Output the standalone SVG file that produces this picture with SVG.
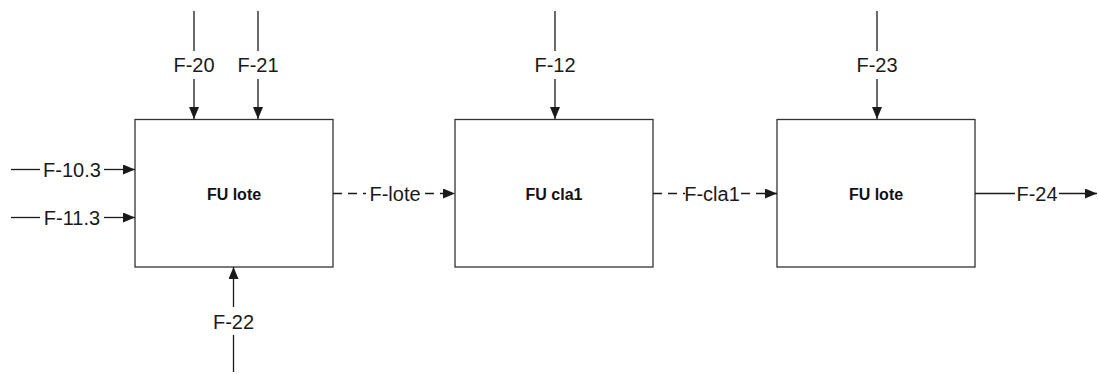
<svg xmlns="http://www.w3.org/2000/svg" width="1099" height="374" viewBox="0 0 1099 374">
<defs>
<marker id="ah" viewBox="0 0 12 10" refX="12" refY="5" markerWidth="12" markerHeight="10" markerUnits="userSpaceOnUse" orient="auto">
<path d="M0,0 L12,5 L0,10 Z" fill="#1a1a1a"/>
</marker>
<style>
.box{fill:#fff;stroke:#333;stroke-width:1.3}
.ln{stroke:#1a1a1a;stroke-width:1.3;fill:none}
.dash{stroke-dasharray:9,6}
.lbl{font-family:"Liberation Sans",Arial,sans-serif;font-size:20px;fill:#1a1a1a}
.nt{font-family:"Liberation Sans",Arial,sans-serif;font-size:16px;font-weight:bold;fill:#111;text-anchor:middle}
</style>
</defs>
<rect width="1099" height="374" fill="#fff"/>
<g id="node-fu-lote-1"><rect class="box" x="135" y="119.5" width="198" height="147.5"/><text class="nt" x="234" y="199.5">FU lote</text></g>
<g id="node-fu-cla1"><rect class="box" x="455" y="119.5" width="198" height="147.5"/><text class="nt" x="554" y="199.5">FU cla1</text></g>
<g id="node-fu-lote-2"><rect class="box" x="777" y="119.5" width="198" height="147.5"/><text class="nt" x="876" y="199.5">FU lote</text></g>
<g id="connectors">
<line class="ln" x1="194" y1="11" x2="194" y2="51"/><line class="ln" x1="194" y1="79" x2="194" y2="119" marker-end="url(#ah)"/>
<text class="lbl" x="194" y="72" text-anchor="middle">F-20</text>
<line class="ln" x1="258" y1="11" x2="258" y2="51"/><line class="ln" x1="258" y1="79" x2="258" y2="119" marker-end="url(#ah)"/>
<text class="lbl" x="258" y="72" text-anchor="middle">F-21</text>
<line class="ln" x1="555" y1="11" x2="555" y2="51"/><line class="ln" x1="555" y1="79" x2="555" y2="119" marker-end="url(#ah)"/>
<text class="lbl" x="555" y="72" text-anchor="middle">F-12</text>
<line class="ln" x1="877" y1="11" x2="877" y2="51"/><line class="ln" x1="877" y1="79" x2="877" y2="119" marker-end="url(#ah)"/>
<text class="lbl" x="877" y="72" text-anchor="middle">F-23</text>
<line class="ln" x1="11" y1="169.5" x2="40" y2="169.5"/><line class="ln" x1="104" y1="169.5" x2="135" y2="169.5" marker-end="url(#ah)"/>
<text class="lbl" x="72" y="176.5" text-anchor="middle">F-10.3</text>
<line class="ln" x1="11" y1="217.5" x2="40" y2="217.5"/><line class="ln" x1="104" y1="217.5" x2="135" y2="217.5" marker-end="url(#ah)"/>
<text class="lbl" x="72" y="224.5" text-anchor="middle">F-11.3</text>
<line class="ln" x1="233.5" y1="372" x2="233.5" y2="335"/><line class="ln" x1="233.5" y1="307" x2="233.5" y2="267" marker-end="url(#ah)"/>
<text class="lbl" x="233.5" y="329" text-anchor="middle">F-22</text>
<line class="ln dash" x1="333" y1="193.5" x2="366" y2="193.5"/><line class="ln dash" x1="425" y1="193.5" x2="455" y2="193.5" marker-end="url(#ah)"/>
<text class="lbl" x="395" y="200.5" text-anchor="middle">F-lote</text>
<line class="ln dash" x1="653" y1="193.5" x2="685" y2="193.5"/><line class="ln dash" x1="741" y1="193.5" x2="777" y2="193.5" marker-end="url(#ah)"/>
<text class="lbl" x="712" y="200.5" text-anchor="middle">F-cla1</text>
<line class="ln" x1="975" y1="193.5" x2="1015" y2="193.5"/><line class="ln" x1="1059" y1="193.5" x2="1097" y2="193.5" marker-end="url(#ah)"/>
<text class="lbl" x="1037" y="200.5" text-anchor="middle">F-24</text>
</g>
</svg>
